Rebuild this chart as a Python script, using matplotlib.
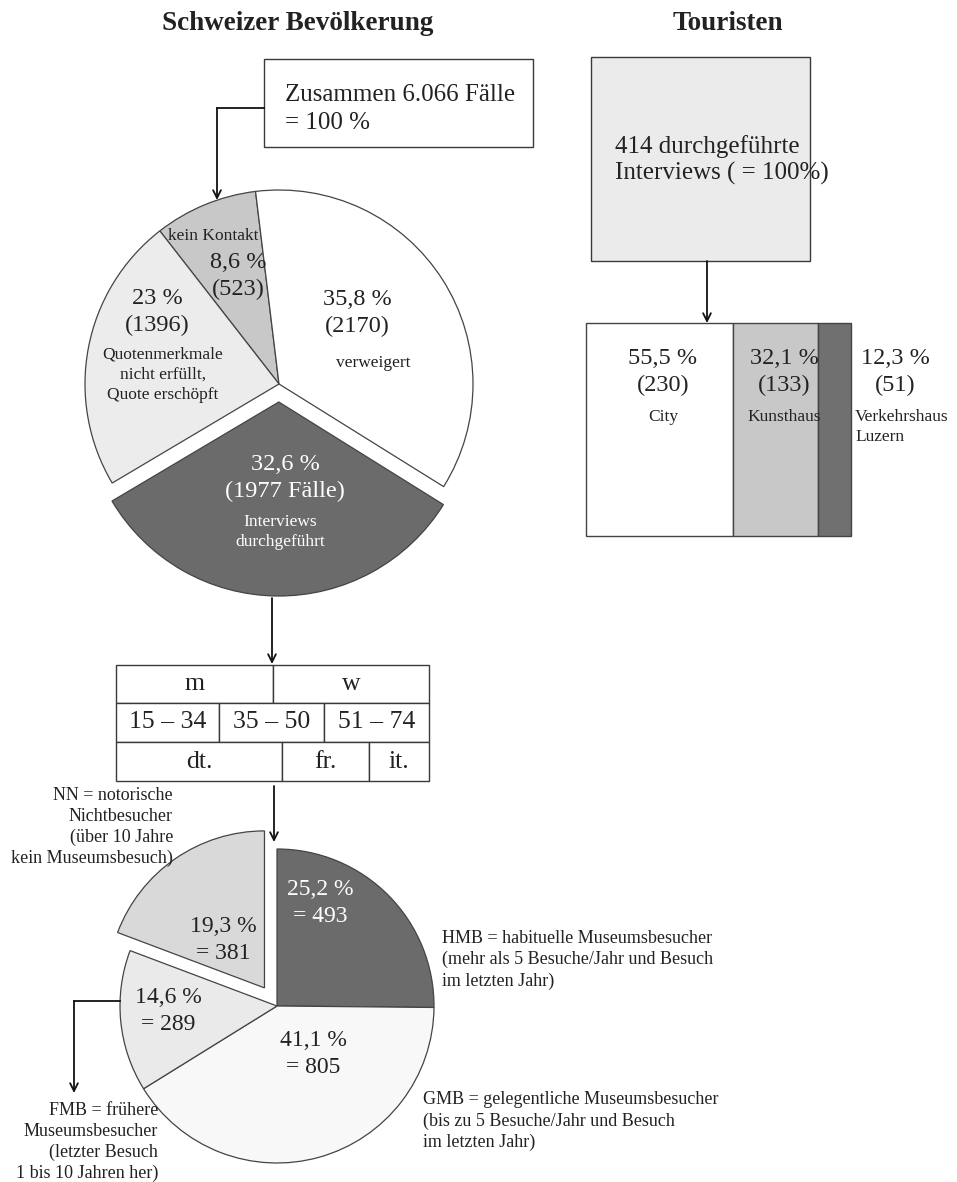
import matplotlib.pyplot as plt
from matplotlib.patches import Rectangle

plt.rcParams['font.family'] = ['Liberation Serif', 'DejaVu Serif']

# --- data ---------------------------------------------------------------
top_names = ["kein Kontakt", "verweigert", "Interviews\ndurchgeführt",
             "Quotenmerkmale\nnicht erfüllt,\nQuote erschöpft"]
top_pct = [8.6, 35.8, 32.6, 23.0]
top_n = ["(523)", "(2170)", "(1977 Fälle)", "(1396)"]
top_pct_lbl = ["8,6 %", "35,8 %", "32,6 %", "23 %"]

tour_names = ["City", "Kunsthaus", "Verkehrshaus\nLuzern"]
tour_pct = [55.5, 32.1, 12.3]
tour_lbl = ["55,5 %\n(230)", "32,1 %\n(133)", "12,3 %\n(51)"]

row_sex = ["m", "w"]
row_age = ["15 – 34", "35 – 50", "51 – 74"]
row_lang = ["dt.", "fr.", "it."]

mus_names = ["HMB", "GMB", "FMB", "NN"]
mus_pct = [25.2, 41.1, 14.6, 19.3]
mus_lbl = ["25,2 %\n= 493", "41,1 %\n= 805", "14,6 %\n= 289", "19,3 %\n= 381"]

W, H = 957, 1182
line_c = "#3a3a3a"
txt_c = "#222"
big, small = 17.5, 12.5

fig = plt.figure(figsize=(W / 100, H / 100), dpi=100)
ax = fig.add_axes([0, 0, 1, 1])
ax.set_zorder(2)


def arrow(x0, y0, x1, y1):
    ax.annotate("", xy=(x1, H - y1), xytext=(x0, H - y0),
                arrowprops=dict(arrowstyle="->", lw=1.3, color="#111",
                                shrinkA=0, shrinkB=0, mutation_scale=14))


# titles
ax.text(298, H - 24, "Schweizer Bevölkerung", ha="center", va="center",
        fontsize=19.5, fontweight="bold", color=txt_c)
ax.text(728, H - 24, "Touristen", ha="center", va="center",
        fontsize=19.5, fontweight="bold", color=txt_c)

# --- top left: total box + pie -----------------------------------------
ax.add_patch(Rectangle((264, H - 147), 269, 88, fc="white", ec=line_c, lw=1))
ax.text(285, H - 95, "Zusammen 6.066 Fälle", ha="left", va="center", fontsize=18, color=txt_c)
ax.text(285, H - 123, "= 100 %", ha="left", va="center", fontsize=18, color=txt_c)
ax.plot([264, 217], [H - 108, H - 108], color="#111", lw=1.3)
arrow(217, 108, 217, 200)

ax.pie(top_pct, colors=["#c8c8c8", "white", "#6b6b6b", "#ececec"],
       startangle=127.9, counterclock=False, radius=194,
       center=(279, H - 384), explode=[0, 0, 18, 0],
       wedgeprops=dict(edgecolor="#444", linewidth=0.9))

ax.text(213, H - 236, top_names[0], ha="center", va="center", fontsize=small, color=txt_c)
ax.text(238, H - 276, top_pct_lbl[0] + "\n" + top_n[0], ha="center", va="center",
        fontsize=big, color=txt_c, linespacing=1.42)
ax.text(357, H - 313, top_pct_lbl[1] + "\n" + top_n[1], ha="center", va="center",
        fontsize=big, color=txt_c, linespacing=1.42)
ax.text(373, H - 363, top_names[1], ha="center", va="center", fontsize=small, color=txt_c)
ax.text(285, H - 478, top_pct_lbl[2] + "\n" + top_n[2], ha="center", va="center",
        fontsize=big, color="white", linespacing=1.42)
ax.text(280, H - 532, top_names[2], ha="center", va="center",
        fontsize=small, color="white", linespacing=1.35)
ax.text(157, H - 312, top_pct_lbl[3] + "\n" + top_n[3], ha="center", va="center",
        fontsize=big, color=txt_c, linespacing=1.42)
ax.text(163, H - 375, top_names[3], ha="center",
        va="center", fontsize=small, color=txt_c, linespacing=1.35)

# --- top right: tourists -----------------------------------------------
ax.add_patch(Rectangle((591, H - 261), 219, 204, fc="#ebebeb", ec=line_c, lw=1))
ax.text(615, H - 147, "414 durchgeführte", ha="left", va="center", fontsize=18, color=txt_c)
ax.text(615, H - 173, "Interviews ( = 100%)", ha="left", va="center", fontsize=18, color=txt_c)
arrow(707, 261, 707, 323)

ax_bar = fig.add_axes([586 / W, (H - 536) / H, 265 / W, 213 / H])
ax_bar.set_zorder(1)
left = 0
for val, col in zip(tour_pct, ["white", "#c8c8c8", "#707070"]):
    ax_bar.barh(0, val, left=left, height=1, color=col, edgecolor="#444",
                linewidth=1, clip_on=False)
    left += val
ax_bar.set_xlim(0, sum(tour_pct))
ax_bar.set_ylim(-0.5, 0.5)
ax_bar.axis("off")

for x, lbl, name in zip([663, 784], tour_lbl[:2], tour_names[:2]):
    ax.text(x, H - 372, lbl, ha="center", va="center", fontsize=big,
            color=txt_c, linespacing=1.42)
    ax.text(x, H - 417, name, ha="center", va="center", fontsize=small, color=txt_c)
ax.text(895, H - 372, tour_lbl[2], ha="center", va="center", fontsize=big,
        color=txt_c, linespacing=1.42)
ax.text(855, H - 427, tour_names[2], ha="left", va="center", fontsize=small,
        color=txt_c, linespacing=1.35)

# --- quota table --------------------------------------------------------
arrow(272, 598, 272, 664)
rows = [(row_sex, [116, 273, 429]), (row_age, [116, 219, 324, 429]),
        (row_lang, [116, 282, 369, 429])]
row_y = [665, 703, 742, 781]
for r, (cells, xs) in enumerate(rows):
    for c, txt in enumerate(cells):
        ax.add_patch(Rectangle((xs[c], H - row_y[r + 1]), xs[c + 1] - xs[c],
                               row_y[r + 1] - row_y[r], fc="white", ec=line_c, lw=1))
        ax.text((xs[c] + xs[c + 1]) / 2, H - (row_y[r] + row_y[r + 1]) / 2, txt,
                ha="center", va="center", fontsize=18.5, color=txt_c)

# --- bottom pie: museum visitors ----------------------------------------
arrow(274, 786, 274, 842)
ax.pie(mus_pct, colors=["#6b6b6b", "#f8f8f8", "#eaeaea", "#d9d9d9"],
       startangle=90, counterclock=False, radius=157, center=(277, H - 1006),
       explode=[0, 0, 0, 22], wedgeprops=dict(edgecolor="#444", linewidth=0.9))

for (x, y), txt, col in zip([(320, 903), (313, 1054), (168, 1011), (223, 940)],
                            mus_lbl, ["white", txt_c, txt_c, txt_c]):
    ax.text(x, H - y, txt, ha="center", va="center", fontsize=17, color=col,
            linespacing=1.4)

desc = dict(fontsize=13, color=txt_c, linespacing=1.3, va="center")
ax.text(442, H - 960, mus_names[0] + " = habituelle Museumsbesucher\n(mehr als 5 Besuche/Jahr und Besuch\nim letzten Jahr)",
        ha="left", **desc)
ax.text(423, H - 1121, mus_names[1] + " = gelegentliche Museumsbesucher\n(bis zu 5 Besuche/Jahr und Besuch\nim letzten Jahr)",
        ha="left", **desc)
ax.text(173, H - 827, mus_names[3] + " = notorische\nNichtbesucher\n(über 10 Jahre\nkein Museumsbesuch)",
        ha="right", **desc)
ax.text(158, H - 1142, mus_names[2] + " = frühere\nMuseumsbesucher\n(letzter Besuch\n1 bis 10 Jahren her)",
        ha="right", **desc)
ax.plot([120, 74], [H - 1001, H - 1001], color="#111", lw=1.3)
arrow(74, 1001, 74, 1093)

ax.set_xlim(0, W)
ax.set_ylim(0, H)
ax.axis("off")

fig.savefig("out.png", dpi=100, facecolor="white")
